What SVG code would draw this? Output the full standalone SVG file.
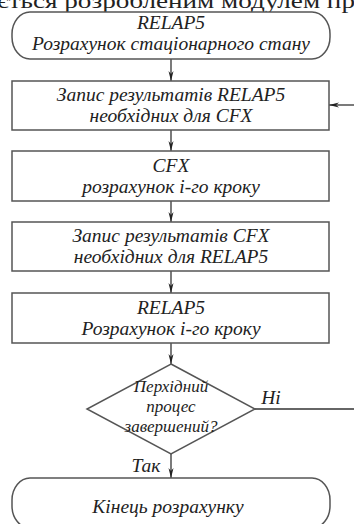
<svg xmlns="http://www.w3.org/2000/svg" width="354" height="524" viewBox="0 0 354 524">
<style>
.shape{fill:#fff;stroke:#555;stroke-width:1.5}
.line{fill:none;stroke:#333;stroke-width:1.3}
text{font-family:'Liberation Serif',serif;font-style:italic;fill:#222;text-anchor:middle;font-size:19.5px}
text.top{font-style:normal;text-anchor:start;font-size:22px}
text.d{font-size:17px}
</style>
<defs>
<marker id="ah" viewBox="0 0 10 10" refX="10" refY="5" markerWidth="10" markerHeight="10" markerUnits="userSpaceOnUse" orient="auto">
<path d="M0,2.5 L10,5 L0,7.5 L3,5 Z" fill="#222"/>
</marker>
</defs>
<rect width="354" height="524" fill="#fff"/>
<text class="top" x="-3" y="8" textLength="358" lengthAdjust="spacingAndGlyphs">ється розробленим модулем пр</text>
<g id="connectors">
<line class="line" x1="171" y1="59" x2="171" y2="81" marker-end="url(#ah)"/>
<line class="line" x1="171" y1="130" x2="171" y2="151" marker-end="url(#ah)"/>
<line class="line" x1="171" y1="201" x2="171" y2="222" marker-end="url(#ah)"/>
<line class="line" x1="171" y1="271" x2="171" y2="293" marker-end="url(#ah)"/>
<line class="line" x1="171" y1="343" x2="171" y2="364" marker-end="url(#ah)"/>
<line class="line" x1="171" y1="454" x2="171" y2="478" marker-end="url(#ah)"/>
<line class="line" x1="255" y1="409" x2="354" y2="409"/>
<line class="line" x1="354" y1="105" x2="329" y2="105" marker-end="url(#ah)"/>
<text x="271" y="404">Ні</text>
<text x="146" y="472">Так</text>
</g>
<g id="start">
<rect class="shape" x="12" y="12" width="318" height="47" rx="18" ry="22"/>
<text x="171" y="29">RELAP5</text>
<text x="171" y="50">Розрахунок стаціонарного стану</text>
</g>
<g id="write-relap">
<rect class="shape" x="12" y="81" width="317" height="49"/>
<text x="171" y="101">Запис результатів RELAP5</text>
<text x="171" y="122">необхідних для CFX</text>
</g>
<g id="cfx-step">
<rect class="shape" x="12" y="151" width="317" height="50"/>
<text x="171" y="172">CFX</text>
<text x="171" y="193">розрахунок і-го кроку</text>
</g>
<g id="write-cfx">
<rect class="shape" x="12" y="222" width="317" height="49"/>
<text x="171" y="242">Запис результатів CFX</text>
<text x="171" y="263">необхідних для RELAP5</text>
</g>
<g id="relap-step">
<rect class="shape" x="12" y="293" width="317" height="50"/>
<text x="171" y="314">RELAP5</text>
<text x="171" y="335">Розрахунок і-го кроку</text>
</g>
<g id="decision">
<polygon class="shape" points="171,364 255,409 171,454 87,409"/>
<text class="d" x="171" y="392">Перхідний</text>
<text class="d" x="171" y="412">процес</text>
<text class="d" x="171" y="432">завершений?</text>
</g>
<g id="end">
<rect class="shape" x="12" y="478" width="318" height="50" rx="18" ry="22"/>
<text x="168" y="513">Кінець розрахунку</text>
</g>
</svg>
